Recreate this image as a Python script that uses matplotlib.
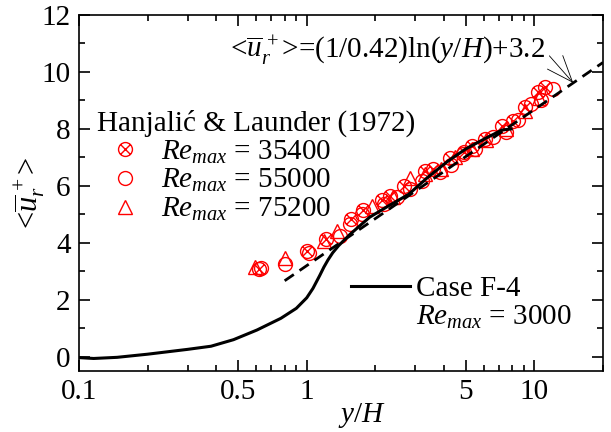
import numpy as np
import matplotlib
matplotlib.use('Agg')
import matplotlib.pyplot as plt
from matplotlib.path import Path
from matplotlib.lines import Line2D
from matplotlib.ticker import FixedLocator, NullFormatter, MultipleLocator

plt.rcParams['font.family'] = ['Liberation Serif', 'DejaVu Serif']
plt.rcParams['mathtext.fontset'] = 'custom'
plt.rcParams['mathtext.rm'] = 'Liberation Serif'
plt.rcParams['mathtext.it'] = 'Liberation Serif:italic'
plt.rcParams['font.size'] = 21

# Case F-4 (DNS, Re_max = 3000)
case_x = [0.1, 0.116, 0.147, 0.2, 0.3, 0.38, 0.477, 0.605, 0.77, 0.9, 1.0, 1.065,
          1.14, 1.19, 1.24, 1.30, 1.38, 1.55, 1.89, 2.29, 2.8, 3.4, 4.14, 5.0,
          6.1, 7.2, 7.9]
case_y = [-0.03, -0.06, -0.02, 0.09, 0.26, 0.37, 0.6, 0.94, 1.35, 1.7, 2.07, 2.4,
          2.85, 3.15, 3.4, 3.65, 3.9, 4.3, 4.9, 5.3, 5.7, 6.3, 6.85, 7.3,
          7.67, 7.96, 8.0]

# Hanjalic & Launder (1972)
hl1_x = [0.62, 1.0, 1.21, 1.56, 1.77, 2.15, 2.33, 2.67, 3.32, 3.6, 4.27, 4.9,
         5.31, 6.07, 7.18, 8.07, 9.07, 10.4, 11.1]
hl1_y = [3.09, 3.73, 4.15, 4.82, 5.14, 5.49, 5.64, 6.0, 6.53, 6.6, 6.99, 7.2,
         7.41, 7.64, 8.11, 8.29, 8.76, 9.29, 9.46]
hl2_x = [0.63, 0.80, 1.02, 1.40, 1.55, 1.75, 2.18, 2.5, 2.85, 3.2, 3.86, 4.3,
         4.88, 5.5, 6.6, 7.5, 8.5, 9.7, 10.7, 12.1]
hl2_y = [3.1, 3.26, 3.64, 4.23, 4.67, 5.02, 5.37, 5.6, 5.9, 6.17, 6.47, 6.75,
         7.11, 7.3, 7.70, 7.9, 8.3, 8.88, 9.0, 9.4]
hl3_x = [0.595, 0.80, 1.19, 1.36, 1.94, 2.4, 2.85, 3.3, 3.9, 4.5, 5.3, 6.1,
         7.5, 9.07, 10.5]
hl3_y = [3.14, 3.47, 4.06, 4.4, 5.29, 5.6, 6.29, 6.4, 6.6, 7.0, 7.3, 7.6,
         8.0, 8.64, 9.1]
hl_labels = ['35400', '55000', '75200']

# log law
kappa, B = 0.42, 3.2
law_x = np.logspace(np.log10(0.8), np.log10(20), 100)
law_y = np.log(law_x) / kappa + B

# circle with a cross inside
d = 0.707
otimes = Path.make_compound_path(
    Path.unit_circle(),
    Path([[-d, -d], [d, d]], [Path.MOVETO, Path.LINETO]),
    Path([[-d, d], [d, -d]], [Path.MOVETO, Path.LINETO]))

fig = plt.figure(figsize=(6.11, 4.32), dpi=100)
ax = fig.add_axes([0.1293, 0.1412, 0.8576, 0.8241])

red = '#ff0000'
mk = dict(linestyle='none', markersize=10, markerfacecolor='none',
          markeredgecolor=red, markeredgewidth=1.0)
h1, = ax.plot(hl1_x, hl1_y, marker=otimes, **mk)
h2, = ax.plot(hl2_x, hl2_y, marker='o', **mk)
h3, = ax.plot(hl3_x, hl3_y, marker='^', **mk)

ax.plot(law_x, law_y, 'k--', lw=2.0, dashes=(4, 2.5))
hc, = ax.plot(case_x, case_y, 'k-', lw=2.2)

ax.set_xscale('log')
ax.set_xlim(0.1, 20)
ax.set_ylim(-0.5, 12)

ax.xaxis.set_major_locator(FixedLocator([0.1, 0.5, 1, 5, 10]))
ax.set_xticklabels(['0.1', '0.5', '1', '5', '10'])
minor = [v * m for m in (0.1, 1, 10) for v in (2, 3, 4, 6, 7, 8, 9)]
ax.xaxis.set_minor_locator(FixedLocator(minor))
ax.xaxis.set_minor_formatter(NullFormatter())
ax.yaxis.set_major_locator(MultipleLocator(2))
ax.yaxis.set_minor_locator(MultipleLocator(1))
ax.tick_params(which='both', direction='in', top=True, right=True, width=1.2)
ax.tick_params(which='major', length=8, pad=6)
ax.tick_params(which='minor', length=4)
for s in ax.spines.values():
    s.set_linewidth(1.2)

ax.set_xlabel('$y/H$')
ax.xaxis.set_label_coords(0.54, -0.085)
ax.set_ylabel(r'<$\overline{u}_r^{\,+}$>', fontsize=22)
ax.yaxis.set_label_coords(-0.062, 0.5)

ax.annotate(r'<$\overline{u}_r^{\,+}$>=(1/0.42)ln($y/H$)+3.2',
            xy=(14.8, np.log(14.8) / kappa + B), xytext=(11.1, 10.75),
            ha='right', va='center', fontsize=21,
            arrowprops=dict(arrowstyle='->,head_length=0.9,head_width=0.35',
                            lw=0.6, color='k', relpos=(1, 0.5),
                            shrinkA=2, shrinkB=0))

leg1 = ax.legend([h1, h2, h3], [r'$Re_{max}$ = ' + s for s in hl_labels],
                 title='Hanjalić & Launder (1972)', alignment='left',
                 loc='upper left', bbox_to_anchor=(0.034, 0.734),
                 frameon=False, borderpad=0, borderaxespad=0,
                 handlelength=1.9, handletextpad=0.3, labelspacing=0.05,
                 fontsize=21, title_fontsize=21)
ax.add_artist(leg1)

blank = Line2D([], [], linestyle='none')
ax.legend([hc, blank], ['Case F-4', r'$Re_{max}$ = 3000'],
          loc='upper left', bbox_to_anchor=(0.52, 0.268),
          frameon=False, borderpad=0, borderaxespad=0,
          handlelength=2.0, handletextpad=0.2, labelspacing=0.05,
          fontsize=21)

fig.savefig('out.png', dpi=100)
